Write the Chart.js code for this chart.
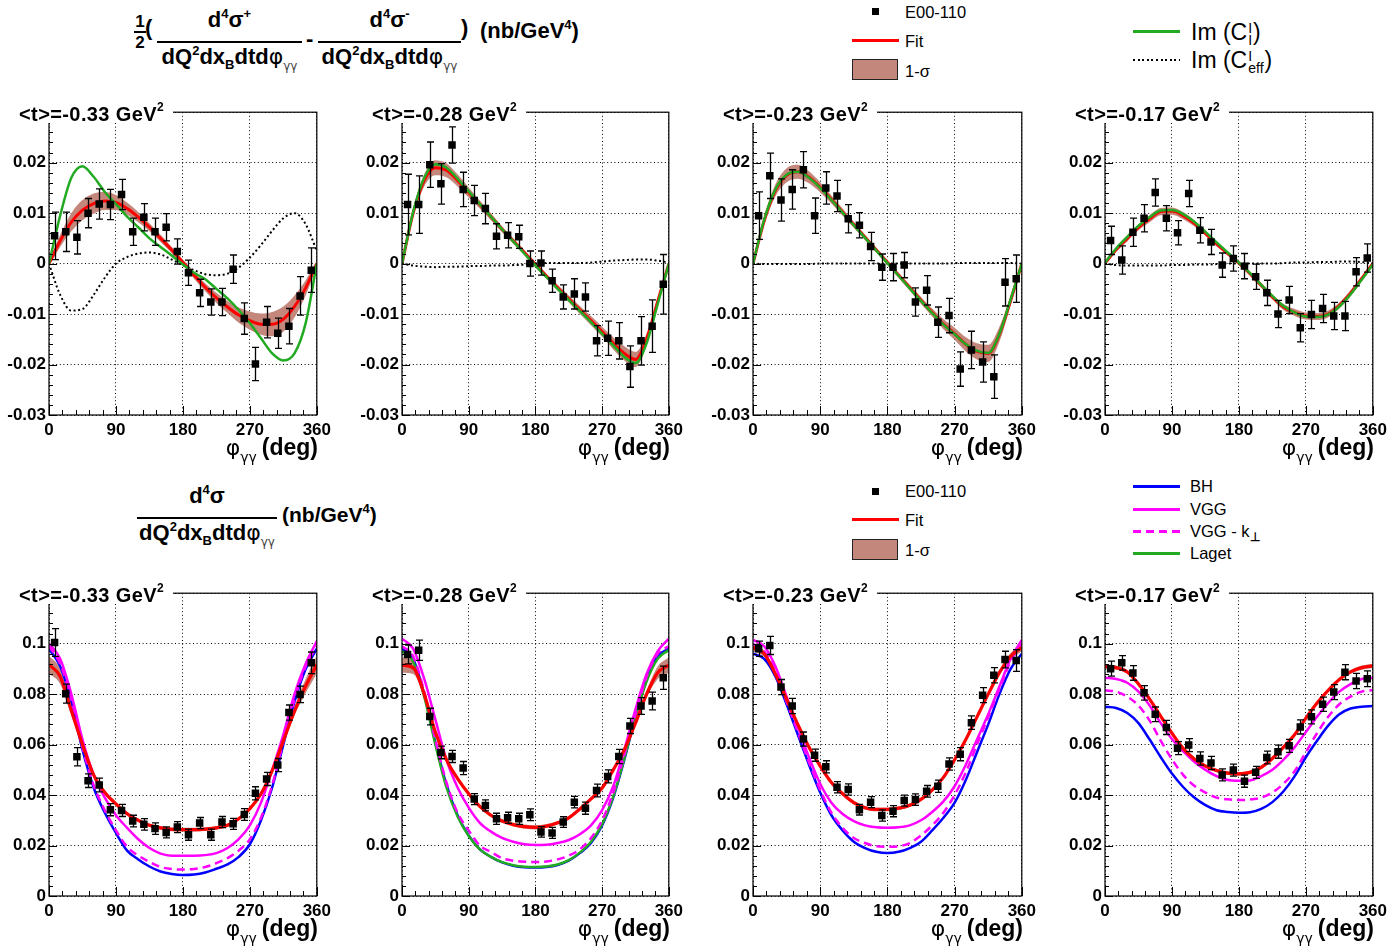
<!DOCTYPE html>
<html>
<head>
<meta charset="utf-8">
<script src="https://cdn.jsdelivr.net/npm/chart.js@4.4.1/dist/chart.umd.min.js"></script>
<style>
  body { margin: 0; background: #fff; width: 1393px; height: 947px; overflow: hidden; position: relative;
         font-family: "Liberation Sans", Arial, sans-serif; color: #000; }
  canvas { position: absolute; }
  .frac { position: absolute; display: flex; flex-direction: column; align-items: center;
          font-weight: bold; font-size: 22px; line-height: 1; white-space: nowrap; }
  .frac .num { margin-bottom: 10px; }
  .frac .bar { align-self: stretch; height: 2px; background: #000; }
  .frac .den { margin-top: 3px; }
  .frac.half { font-size: 17px; }
  .frac.half .num { margin-bottom: 1px; }
  .frac.half .bar { height: 1.5px; }
  .frac.half .den { margin-top: 1px; }
  .f { position: absolute; font-weight: bold; font-size: 22px; line-height: 1; white-space: nowrap; }
  .phi { font-family: "DejaVu Sans"; font-weight: normal; }
  .gg { font-family: "DejaVu Sans"; font-weight: normal; font-size: 12px; position: relative; top: 6px; color: #444; }
  .sp { font-size: 13px; position: relative; top: -9px; }
  .sb { font-size: 13px; position: relative; top: 5px; }
  .lg { position: absolute; font-size: 16.5px; line-height: 18px; white-space: nowrap; }
  .lg2 { position: absolute; font-size: 23px; line-height: 26px; white-space: nowrap; }
  .ss { display: inline-block; vertical-align: middle; font-size: 14px; line-height: 12px; margin: 0 1px; }
  .ss span { display: block; }
  .sq { position: absolute; width: 7px; height: 7px; background: #000; }
  .ln { position: absolute; height: 2.5px; width: 47px; }
  .bx { position: absolute; width: 46px; height: 21px; background: #c3877b; border: 1.5px solid #222; box-sizing: border-box; }
  .tbox { position: absolute; background: #fff; font-weight: bold; font-size: 20px; letter-spacing: 0.4px;
          line-height: 27px; height: 27px; white-space: nowrap; box-sizing: border-box; }
  .tbox sup { font-size: 12px; position: relative; top: -2px; }
  .xt { position: absolute; font-weight: bold; font-size: 23px; line-height: 26px; white-space: nowrap; }
  .xt .p { font-family: "DejaVu Sans"; font-weight: normal; font-size: 22px; }
  .xt .s { font-family: "DejaVu Sans"; font-weight: normal; font-size: 14px; position: relative; top: 7px; margin-right: 5px; }
</style>
</head>
<body>

<!-- upper formula -->
<div class="frac half" style="left:134px;top:13px;width:12px"><span class="num">1</span><span class="bar"></span><span class="den">2</span></div>
<div class="f" style="left:145px;top:17px">(</div>
<div class="frac" style="left:157px;top:9px;width:145px">
  <span class="num">d<span class="sp">4</span>σ<span class="sp">+</span></span><span class="bar"></span>
  <span class="den">dQ<span class="sp">2</span>dx<span class="sb">B</span>dtd<span class="phi">φ</span><span class="gg">γγ</span></span>
</div>
<div class="f" style="left:306px;top:28px">-</div>
<div class="frac" style="left:318px;top:9px;width:143px">
  <span class="num">d<span class="sp">4</span>σ<span class="sp">-</span></span><span class="bar"></span>
  <span class="den">dQ<span class="sp">2</span>dx<span class="sb">B</span>dtd<span class="phi">φ</span><span class="gg">γγ</span></span>
</div>
<div class="f" style="left:461px;top:17px">)</div>
<div class="f" style="left:480px;top:20px">(nb/GeV<span class="sp">4</span>)</div>

<!-- upper legends -->
<div class="sq" style="left:872px;top:8px"></div>
<div class="lg" style="left:905px;top:3px">E00-110</div>
<div class="ln" style="left:852px;top:39px;background:#ff0000"></div>
<div class="lg" style="left:905px;top:32px">Fit</div>
<div class="bx" style="left:852px;top:59px"></div>
<div class="lg" style="left:905px;top:62px">1-σ</div>
<div class="ln" style="left:1133px;top:30px;background:#22aa22"></div>
<div class="lg2" style="left:1191px;top:19px">Im (C<span class="ss"><span>I</span><span>I</span></span>)</div>
<div class="ln" style="left:1133px;top:59px;height:2px;background:repeating-linear-gradient(90deg,#000 0 2px,transparent 2px 4.6px)"></div>
<div class="lg2" style="left:1191px;top:47px">Im (C<span class="ss"><span>I</span><span>eff</span></span>)</div>

<!-- lower formula -->
<div class="frac" style="left:137px;top:485px;width:140px">
  <span class="num">d<span class="sp">4</span>σ</span><span class="bar"></span>
  <span class="den">dQ<span class="sp">2</span>dx<span class="sb">B</span>dtd<span class="phi">φ</span><span class="gg">γγ</span></span>
</div>
<div class="f" style="left:282px;top:504px;font-size:21px">(nb/GeV<span class="sp">4</span>)</div>

<!-- lower legends -->
<div class="sq" style="left:872px;top:488px"></div>
<div class="lg" style="left:905px;top:482px">E00-110</div>
<div class="ln" style="left:852px;top:518px;background:#ff0000"></div>
<div class="lg" style="left:905px;top:511px">Fit</div>
<div class="bx" style="left:852px;top:539px"></div>
<div class="lg" style="left:905px;top:541px">1-σ</div>
<div class="ln" style="left:1133px;top:485px;background:#0000ff"></div>
<div class="lg" style="left:1190px;top:477px">BH</div>
<div class="ln" style="left:1133px;top:508px;background:#ff00ff"></div>
<div class="lg" style="left:1190px;top:500px">VGG</div>
<div class="ln" style="left:1133px;top:530px;background:repeating-linear-gradient(90deg,#ff00ff 0 8px,transparent 8px 13px)"></div>
<div class="lg" style="left:1190px;top:522px">VGG - k<sub style="font-size:12px;font-weight:bold">⊥</sub></div>
<div class="ln" style="left:1133px;top:552px;background:#22aa22"></div>
<div class="lg" style="left:1190px;top:544px">Laget</div>

<script>
// phi bins of the data points and sampling of the curves (deg)
const phiBins = [7.5, 22.5, 37.5, 52.5, 67.5, 82.5, 97.5, 112.5, 127.5, 142.5, 157.5, 172.5,
                 187.5, 202.5, 217.5, 232.5, 247.5, 262.5, 277.5, 292.5, 307.5, 322.5, 337.5, 352.5];
const phiCurve = [0, 15, 30, 45, 60, 75, 90, 105, 120, 135, 150, 165, 180,
                  195, 210, 225, 240, 255, 270, 285, 300, 315, 330, 345, 360];
const tLabels = ['-0.33', '-0.28', '-0.23', '-0.17'];

// ---- helicity difference (upper row) ----
const diffPts033 = [0.0055, 0.0063, 0.0052, 0.0100, 0.0118, 0.0117, 0.0137, 0.0063, 0.0092, 0.0063, 0.0072, 0.0024,
                    -0.0018, -0.0058, -0.0076, -0.0076, -0.0011, -0.0109, -0.0199, -0.0116, -0.0138, -0.0124, -0.0064, -0.0013];
const diffErr033 = [0.0047, 0.0039, 0.0033, 0.0029, 0.0030, 0.0030, 0.0030, 0.0027, 0.0027, 0.0027, 0.0027, 0.0025,
                    0.0025, 0.0027, 0.0026, 0.0027, 0.0028, 0.0031, 0.0033, 0.0031, 0.0030, 0.0035, 0.0038, 0.0044];
const diffFit033 = [0, 0.0045, 0.0082, 0.0106, 0.0119, 0.0124, 0.0121, 0.0109, 0.0092, 0.0072, 0.0050, 0.0027, 0.0002,
                    -0.0023, -0.0047, -0.0068, -0.0086, -0.0102, -0.0113, -0.0120, -0.0120, -0.0110, -0.0085, -0.0048, 0];
const diffBand033 = [0.0005, 0.0012, 0.0018, 0.0020, 0.0020, 0.0018, 0.0015, 0.0012, 0.0010, 0.0008, 0.0007, 0.0006, 0.0006,
                     0.0007, 0.0008, 0.0010, 0.0012, 0.0015, 0.0018, 0.0021, 0.0024, 0.0025, 0.0022, 0.0015, 0.0006];
const diffImCI033 = [0, 0.0095, 0.0170, 0.0193, 0.0172, 0.0142, 0.0118, 0.0093, 0.0072, 0.0050, 0.0033, 0.0016, -0.0002,
                     -0.0018, -0.0031, -0.0050, -0.0069, -0.0092, -0.0118, -0.0148, -0.0178, -0.0192, -0.0178, -0.0118, 0];
const diffImCeff033 = [0, -0.0062, -0.0093, -0.0090, -0.0062, -0.0028, 0.0000, 0.0013, 0.0020, 0.0022, 0.0018, 0.0008, -0.0003,
                       -0.0013, -0.0021, -0.0023, -0.0020, -0.0008, 0.0012, 0.0037, 0.0065, 0.0090, 0.0100, 0.0078, 0.0025];

const diffPts028 = [0.0117, 0.0117, 0.0196, 0.0158, 0.0235, 0.0147, 0.0125, 0.0109, 0.0054, 0.0056, 0.0053, 0.0000,
                    0.0001, -0.0034, -0.0066, -0.0060, -0.0066, -0.0153, -0.0148, -0.0153, -0.0204, -0.0153, -0.0124, -0.0041];
const diffErr028 = [0.0060, 0.0057, 0.0045, 0.0040, 0.0036, 0.0034, 0.0030, 0.0030, 0.0025, 0.0025, 0.0023, 0.0025,
                    0.0024, 0.0023, 0.0024, 0.0030, 0.0028, 0.0030, 0.0034, 0.0036, 0.0041, 0.0048, 0.0052, 0.0059];
const diffFit028 = [0, 0.0100, 0.0165, 0.0190, 0.0185, 0.0165, 0.0141, 0.0117, 0.0093, 0.0068, 0.0045, 0.0022, -0.0002,
                    -0.0025, -0.0048, -0.0070, -0.0092, -0.0113, -0.0135, -0.0158, -0.0178, -0.0190, -0.0150, -0.0075, 0];
const diffBand028 = [0.0004, 0.0008, 0.0012, 0.0015, 0.0014, 0.0012, 0.0010, 0.0008, 0.0007, 0.0006, 0.0005, 0.0005, 0.0005,
                     0.0005, 0.0006, 0.0007, 0.0008, 0.0009, 0.0010, 0.0012, 0.0014, 0.0015, 0.0012, 0.0008, 0.0004];
const diffImCI028 = [0, 0.0102, 0.0170, 0.0197, 0.0190, 0.0168, 0.0143, 0.0118, 0.0093, 0.0068, 0.0044, 0.0020, -0.0004,
                     -0.0027, -0.0050, -0.0072, -0.0094, -0.0116, -0.0139, -0.0162, -0.0185, -0.0197, -0.0158, -0.0080, 0];
const diffImCeff028 = [0, -0.0004, -0.0006, -0.0007, -0.0006, -0.0006, -0.0005, -0.0005, -0.0004, -0.0004, -0.0003, -0.0002, 0,
                       0.0001, 0.0001, 0.0001, 0.0001, 0.0002, 0.0004, 0.0006, 0.0007, 0.0008, 0.0008, 0.0006, 0.0002];

const diffPts023 = [0.0095, 0.0174, 0.0126, 0.0147, 0.0186, 0.0095, 0.0150, 0.0134, 0.0089, 0.0076, 0.0034, -0.0007,
                    -0.0007, -0.0003, -0.0076, -0.0053, -0.0116, -0.0103, -0.0209, -0.0171, -0.0195, -0.0224, -0.0037, -0.0030];
const diffErr023 = [0.0047, 0.0045, 0.0042, 0.0039, 0.0036, 0.0035, 0.0032, 0.0031, 0.0028, 0.0025, 0.0028, 0.0026,
                    0.0027, 0.0025, 0.0028, 0.0029, 0.0030, 0.0034, 0.0034, 0.0037, 0.0040, 0.0043, 0.0047, 0.0047];
const diffFit023 = [0, 0.0085, 0.0145, 0.0175, 0.0182, 0.0171, 0.0151, 0.0127, 0.0102, 0.0077, 0.0052, 0.0027, 0.0002,
                    -0.0023, -0.0048, -0.0073, -0.0097, -0.0120, -0.0139, -0.0160, -0.0174, -0.0178, -0.0140, -0.0073, 0];
const diffBand023 = [0.0004, 0.0008, 0.0012, 0.0014, 0.0014, 0.0012, 0.0010, 0.0008, 0.0007, 0.0006, 0.0005, 0.0005, 0.0005,
                     0.0005, 0.0006, 0.0007, 0.0008, 0.0010, 0.0012, 0.0014, 0.0016, 0.0017, 0.0015, 0.0010, 0.0005];
const diffImCI023 = [0, 0.0087, 0.0147, 0.0176, 0.0182, 0.0170, 0.0150, 0.0126, 0.0101, 0.0076, 0.0051, 0.0026, 0.0001,
                     -0.0024, -0.0049, -0.0074, -0.0098, -0.0121, -0.0140, -0.0160, -0.0173, -0.0177, -0.0139, -0.0071, 0];
const diffImCeff023 = [0, -0.0001, -0.0001, -0.0001, -0.0001, -0.0001, 0, 0, 0, 0, 0, 0, 0,
                       0, 0, 0, 0, 0, 0.0001, 0.0001, 0.0001, 0.0001, 0.0001, 0.0001, 0];

const diffPts017 = [0.0046, 0.0007, 0.0062, 0.0090, 0.0141, 0.0090, 0.0061, 0.0139, 0.0066, 0.0043, -0.0003, 0.0010,
                    -0.0005, -0.0026, -0.0058, -0.0100, -0.0072, -0.0127, -0.0101, -0.0089, -0.0104, -0.0104, -0.0016, 0.0011];
const diffErr017 = [0.0028, 0.0028, 0.0028, 0.0027, 0.0027, 0.0025, 0.0024, 0.0026, 0.0025, 0.0025, 0.0024, 0.0025,
                    0.0025, 0.0025, 0.0025, 0.0027, 0.0027, 0.0028, 0.0028, 0.0028, 0.0027, 0.0029, 0.0028, 0.0028];
const diffFit017 = [0.0001, 0.0028, 0.0050, 0.0072, 0.0089, 0.0103, 0.0104, 0.0095, 0.0080, 0.0060, 0.0039, 0.0020, 0.0001,
                    -0.0020, -0.0043, -0.0066, -0.0086, -0.0097, -0.0104, -0.0105, -0.0100, -0.0083, -0.0059, -0.0030, 0];
const diffBand017 = [0.0004, 0.0005, 0.0006, 0.0006, 0.0007, 0.0007, 0.0007, 0.0007, 0.0006, 0.0005, 0.0005, 0.0004, 0.0004,
                     0.0004, 0.0005, 0.0005, 0.0006, 0.0007, 0.0007, 0.0007, 0.0007, 0.0006, 0.0006, 0.0005, 0.0004];
const diffImCI017 = [0.0002, 0.0030, 0.0053, 0.0075, 0.0092, 0.0105, 0.0106, 0.0098, 0.0083, 0.0063, 0.0042, 0.0022, 0.0002,
                     -0.0019, -0.0042, -0.0064, -0.0084, -0.0097, -0.0105, -0.0106, -0.0101, -0.0085, -0.0061, -0.0032, -0.0002];
const diffImCeff017 = [0, -0.0003, -0.0004, -0.0004, -0.0004, -0.0004, -0.0003, -0.0003, -0.0002, -0.0002, -0.0001, 0, 0,
                       0, 0, 0, 0.0001, 0.0002, 0.0002, 0.0003, 0.0003, 0.0004, 0.0004, 0.0003, 0.0001];

// ---- unpolarized cross section (lower row) ----
const xsPts033 = [0.1005, 0.0802, 0.0552, 0.0457, 0.0440, 0.0342, 0.0339, 0.0297, 0.0284, 0.0267, 0.0252, 0.0273,
                  0.0243, 0.0289, 0.0243, 0.0293, 0.0286, 0.0323, 0.0407, 0.0464, 0.0519, 0.0727, 0.0799, 0.0924];
const xsErr033 = [0.0055, 0.0038, 0.0036, 0.0027, 0.0027, 0.0024, 0.0024, 0.0023, 0.0023, 0.0023, 0.0022, 0.0022,
                  0.0022, 0.0022, 0.0022, 0.0022, 0.0022, 0.0023, 0.0026, 0.0026, 0.0026, 0.0030, 0.0033, 0.0043];
const xsFit033 = [0.0917, 0.0870, 0.0735, 0.0600, 0.0480, 0.0410, 0.0365, 0.0326, 0.0300, 0.0280, 0.0270, 0.0264, 0.0263,
                  0.0263, 0.0265, 0.0270, 0.0280, 0.0306, 0.0346, 0.0405, 0.0497, 0.0615, 0.0733, 0.0832, 0.0917];
const xsBand033 = [0.0035, 0.0030, 0.0020, 0.0012, 0.0009, 0.0008, 0.0007, 0.0007, 0.0007, 0.0007, 0.0007, 0.0007, 0.0007,
                   0.0007, 0.0007, 0.0007, 0.0007, 0.0007, 0.0008, 0.0009, 0.0010, 0.0012, 0.0018, 0.0028, 0.0035];
const xsBH033 = [0.098, 0.091, 0.077, 0.058, 0.043, 0.033, 0.025, 0.018, 0.0145, 0.0117, 0.0097, 0.0087, 0.0083,
                 0.0085, 0.0093, 0.0108, 0.0125, 0.0155, 0.0205, 0.030, 0.043, 0.060, 0.077, 0.090, 0.098];
const xsVGG033 = [0.100, 0.094, 0.080, 0.062, 0.048, 0.039, 0.032, 0.027, 0.0225, 0.019, 0.0168, 0.016, 0.016,
                  0.016, 0.0162, 0.017, 0.019, 0.0225, 0.028, 0.037, 0.050, 0.064, 0.080, 0.092, 0.101];
const xsVGGk033 = [0.099, 0.092, 0.078, 0.059, 0.044, 0.034, 0.026, 0.0195, 0.016, 0.0135, 0.0115, 0.0107, 0.0105,
                   0.0107, 0.0115, 0.013, 0.015, 0.018, 0.0225, 0.031, 0.044, 0.061, 0.078, 0.091, 0.099];

const xsPts028 = [0.0957, 0.0974, 0.0711, 0.0569, 0.0553, 0.0507, 0.0384, 0.0359, 0.0306, 0.0310, 0.0306, 0.0322,
                  0.0254, 0.0250, 0.0293, 0.0372, 0.0348, 0.0418, 0.0474, 0.0553, 0.0674, 0.0753, 0.0773, 0.0865];
const xsErr028 = [0.0037, 0.0040, 0.0033, 0.0025, 0.0024, 0.0026, 0.0022, 0.0022, 0.0022, 0.0022, 0.0022, 0.0023,
                  0.0021, 0.0022, 0.0021, 0.0023, 0.0024, 0.0025, 0.0026, 0.0028, 0.0030, 0.0033, 0.0035, 0.0046];
const xsFit028 = [0.0915, 0.0905, 0.0800, 0.0650, 0.0540, 0.0465, 0.0405, 0.0355, 0.0320, 0.0297, 0.0283, 0.0275, 0.0272,
                  0.0277, 0.0290, 0.0310, 0.0345, 0.0385, 0.0428, 0.0500, 0.0580, 0.0685, 0.0800, 0.0885, 0.0915];
const xsBand028 = [0.0030, 0.0025, 0.0015, 0.0010, 0.0008, 0.0008, 0.0007, 0.0007, 0.0007, 0.0007, 0.0007, 0.0008, 0.0008,
                   0.0008, 0.0007, 0.0007, 0.0007, 0.0007, 0.0008, 0.0008, 0.0009, 0.0010, 0.0015, 0.0025, 0.0030];
const xsBH028 = [0.098, 0.094, 0.080, 0.061, 0.044, 0.032, 0.024, 0.0185, 0.0155, 0.0133, 0.012, 0.0114, 0.0113,
                 0.0115, 0.0123, 0.014, 0.017, 0.021, 0.028, 0.039, 0.054, 0.071, 0.086, 0.095, 0.098];
const xsLaget028 = [0.097, 0.093, 0.079, 0.060, 0.043, 0.0315, 0.0238, 0.0185, 0.0155, 0.0134, 0.0122, 0.0116, 0.0115,
                    0.0117, 0.0125, 0.0142, 0.0172, 0.0215, 0.0285, 0.0395, 0.0545, 0.071, 0.085, 0.094, 0.0975];
const xsVGG028 = [0.102, 0.098, 0.086, 0.070, 0.054, 0.043, 0.035, 0.029, 0.0255, 0.023, 0.0215, 0.0205, 0.0202,
                  0.0203, 0.021, 0.0222, 0.0245, 0.028, 0.034, 0.0435, 0.058, 0.074, 0.088, 0.097, 0.102];
const xsVGGk028 = [0.099, 0.095, 0.081, 0.062, 0.045, 0.033, 0.026, 0.020, 0.0175, 0.015, 0.014, 0.0136, 0.0135,
                   0.0137, 0.0145, 0.016, 0.0185, 0.023, 0.030, 0.041, 0.056, 0.072, 0.087, 0.096, 0.099];

const xsPts023 = [0.0980, 0.0993, 0.0828, 0.0753, 0.0622, 0.0558, 0.0512, 0.0431, 0.0422, 0.0342, 0.0372, 0.0319,
                  0.0336, 0.0378, 0.0382, 0.0415, 0.0435, 0.0523, 0.0562, 0.0687, 0.0796, 0.0875, 0.0937, 0.0933];
const xsErr023 = [0.0030, 0.0036, 0.0030, 0.0030, 0.0028, 0.0024, 0.0024, 0.0022, 0.0022, 0.0021, 0.0022, 0.0022,
                  0.0022, 0.0022, 0.0023, 0.0023, 0.0024, 0.0024, 0.0026, 0.0027, 0.0030, 0.0030, 0.0033, 0.0043];
const xsFit023 = [0.0985, 0.0960, 0.0880, 0.0780, 0.0680, 0.0590, 0.0515, 0.0450, 0.0405, 0.0370, 0.0350, 0.0343, 0.0343,
                  0.0348, 0.0360, 0.0383, 0.0420, 0.0470, 0.0540, 0.0620, 0.0710, 0.0800, 0.0885, 0.0950, 0.0985];
const xsBand023 = [0.0015, 0.0013, 0.0010, 0.0008, 0.0007, 0.0007, 0.0007, 0.0007, 0.0007, 0.0007, 0.0007, 0.0007, 0.0007,
                   0.0007, 0.0007, 0.0007, 0.0007, 0.0007, 0.0007, 0.0007, 0.0008, 0.0009, 0.0010, 0.0013, 0.0015];
const xsBH023 = [0.096, 0.094, 0.087, 0.076, 0.064, 0.052, 0.041, 0.032, 0.026, 0.0215, 0.019, 0.0175, 0.017,
                 0.0175, 0.019, 0.0215, 0.026, 0.031, 0.037, 0.046, 0.057, 0.068, 0.080, 0.090, 0.096];
const xsVGG023 = [0.1015, 0.099, 0.091, 0.079, 0.067, 0.055, 0.0445, 0.037, 0.0325, 0.0297, 0.028, 0.0272, 0.027,
                  0.0272, 0.028, 0.030, 0.0333, 0.0375, 0.0435, 0.052, 0.062, 0.072, 0.083, 0.094, 0.1015];
const xsVGGk023 = [0.100, 0.097, 0.089, 0.077, 0.065, 0.053, 0.042, 0.033, 0.027, 0.023, 0.021, 0.0197, 0.0195,
                   0.0197, 0.021, 0.024, 0.028, 0.033, 0.040, 0.049, 0.060, 0.071, 0.082, 0.093, 0.100];

const xsPts017 = [0.0901, 0.0924, 0.0884, 0.0805, 0.0720, 0.0668, 0.0586, 0.0598, 0.0545, 0.0527, 0.0480, 0.0499,
                  0.0455, 0.0490, 0.0549, 0.0572, 0.0595, 0.0670, 0.0710, 0.0760, 0.0808, 0.0887, 0.0852, 0.0861];
const xsErr017 = [0.0030, 0.0029, 0.0029, 0.0029, 0.0029, 0.0028, 0.0026, 0.0026, 0.0026, 0.0026, 0.0024, 0.0024,
                  0.0024, 0.0024, 0.0025, 0.0026, 0.0026, 0.0028, 0.0028, 0.0028, 0.0030, 0.0030, 0.0030, 0.0031];
const xsFit017 = [0.0910, 0.0905, 0.0888, 0.0840, 0.0780, 0.0712, 0.0645, 0.0585, 0.0543, 0.0515, 0.0497, 0.0487, 0.0484,
                  0.0490, 0.0510, 0.0545, 0.0590, 0.0640, 0.0705, 0.0765, 0.0815, 0.0858, 0.0888, 0.0905, 0.0912];
const xsBand017 = [0.0008, 0.0008, 0.0007, 0.0007, 0.0007, 0.0007, 0.0007, 0.0007, 0.0007, 0.0007, 0.0007, 0.0007, 0.0007,
                   0.0007, 0.0007, 0.0007, 0.0007, 0.0007, 0.0007, 0.0007, 0.0007, 0.0007, 0.0007, 0.0008, 0.0008];
const xsBH017 = [0.0750, 0.0745, 0.0725, 0.0685, 0.0620, 0.0550, 0.0485, 0.0432, 0.0390, 0.0360, 0.0340, 0.0333, 0.0330,
                 0.0332, 0.0345, 0.0372, 0.0415, 0.0475, 0.0550, 0.0615, 0.0675, 0.0720, 0.0743, 0.0750, 0.0753];
const xsVGG017 = [0.0865, 0.0860, 0.0845, 0.0810, 0.0755, 0.0685, 0.0622, 0.0574, 0.0532, 0.0500, 0.0475, 0.0460, 0.0457,
                  0.0458, 0.0475, 0.0500, 0.0540, 0.0590, 0.0650, 0.0710, 0.0765, 0.0810, 0.0840, 0.0860, 0.0865];
const xsVGGk017 = [0.0815, 0.0810, 0.0790, 0.0755, 0.0695, 0.0615, 0.0542, 0.0480, 0.0437, 0.0410, 0.0390, 0.0383, 0.0380,
                   0.0382, 0.0390, 0.0410, 0.0445, 0.0495, 0.0570, 0.0645, 0.0710, 0.0760, 0.0790, 0.0810, 0.0816];

// ---- layout ----
const colL = [49, 402, 753, 1105];
const colR = [318, 670, 1023, 1374];
const rowT = [111, 592];
const rowB = [415, 896];
const AX_W = 48, AX_H = 30, PAD_T = 12, PAD_R = 18;

const RED = '#ff0000', GREEN = '#22aa22', BLUE = '#0000ff', MAGENTA = '#ff00ff', BAND = '#c3877b';
const tickFont = { family: '"Liberation Sans", Arial, sans-serif', size: 17, weight: 'bold' };

// error bars drawn just before the marker dataset
const errorBars = {
  id: 'errorBars',
  beforeDatasetDraw(chart, args) {
    const ds = chart.data.datasets[args.index];
    if (!ds.errors) return;
    const { ctx, scales: { x, y } } = chart;
    ctx.save();
    ctx.strokeStyle = '#000';
    ctx.lineWidth = 1.3;
    ctx.beginPath();
    ds.data.forEach((p, i) => {
      const px = Math.round(x.getPixelForValue(p.x)) + 0.5;
      const y1 = y.getPixelForValue(p.y - ds.errors[i]);
      const y2 = y.getPixelForValue(p.y + ds.errors[i]);
      ctx.moveTo(px, y1); ctx.lineTo(px, y2);
      ctx.moveTo(px - 3.5, y1); ctx.lineTo(px + 3.5, y1);
      ctx.moveTo(px - 3.5, y2); ctx.lineTo(px + 3.5, y2);
    });
    ctx.stroke();
    ctx.restore();
  }
};

// ROOT-like frame with ticks pointing inside
const frameTicks = {
  id: 'frameTicks',
  afterDatasetsDraw(chart, args, o) {
    const { ctx, chartArea: a, scales: { x, y } } = chart;
    ctx.save();
    ctx.strokeStyle = '#000';
    ctx.lineWidth = 1.2;
    ctx.strokeRect(a.left, a.top, a.right - a.left, a.bottom - a.top);
    ctx.lineWidth = 1;
    ctx.beginPath();
    for (let k = 0; k <= 20; k++) {
      const px = Math.round(x.getPixelForValue(k * 18)) + 0.5;
      const len = k % 5 === 0 ? 9 : 5;
      ctx.moveTo(px, a.bottom); ctx.lineTo(px, a.bottom - len);
    }
    for (let k = 0; k <= 30; k++) {
      const py = Math.round(y.getPixelForValue(y.min + k * o.yMinor)) + 0.5;
      const len = k % 5 === 0 ? 8 : 4;
      ctx.moveTo(a.left, py); ctx.lineTo(a.left + len, py);
    }
    ctx.stroke();
    ctx.restore();
  }
};

function pts(xs, ys) { return xs.map((x, i) => ({ x: x, y: ys[i] })); }

function curve(vals, color, width, dash) {
  return { data: pts(phiCurve, vals), borderColor: color, borderWidth: width, borderDash: dash || [],
           pointRadius: 0, pointHitRadius: 0, fill: false, cubicInterpolationMode: 'monotone' };
}

function markers(vals, errs) {
  return { data: pts(phiBins, vals), errors: errs, showLine: false, pointStyle: 'rect',
           pointRadius: 5.3, pointBackgroundColor: '#000', pointBorderWidth: 0, borderColor: '#000' };
}

function band(fit, half) {
  const hi = fit.map((v, i) => v + half[i]);
  const lo = fit.map((v, i) => v - half[i]);
  return [
    { data: pts(phiCurve, hi), borderWidth: 0, borderColor: 'transparent', pointRadius: 0,
      fill: '+1', backgroundColor: BAND, cubicInterpolationMode: 'monotone' },
    { data: pts(phiCurve, lo), borderWidth: 0, borderColor: 'transparent', pointRadius: 0,
      fill: false, cubicInterpolationMode: 'monotone' }
  ];
}

function panel(row, col, datasets, yMin, yMax, yStep, yMinor) {
  const L = colL[col], R = colR[col], T = rowT[row], B = rowB[row];
  const canvas = document.createElement('canvas');
  canvas.width = R - L + AX_W + PAD_R;
  canvas.height = B - T + PAD_T + AX_H;
  canvas.style.left = (L - AX_W) + 'px';
  canvas.style.top = (T - PAD_T) + 'px';
  document.body.appendChild(canvas);

  new Chart(canvas, {
    type: 'line',
    data: { datasets: datasets },
    plugins: [errorBars, frameTicks],
    options: {
      responsive: false,
      animation: false,
      events: [],
      layout: { padding: { top: PAD_T, right: PAD_R, left: 0, bottom: 0 } },
      plugins: { legend: { display: false }, tooltip: { enabled: false }, frameTicks: { yMinor: yMinor } },
      scales: {
        x: {
          type: 'linear', min: 0, max: 360,
          ticks: { stepSize: 90, color: '#000', font: tickFont, padding: 5, maxRotation: 0, autoSkip: false },
          grid: { color: '#000', lineWidth: 1, drawTicks: false },
          border: { display: false, dash: [1, 2.6] },
          afterFit: s => { s.height = AX_H; }
        },
        y: {
          type: 'linear', min: yMin, max: yMax,
          ticks: { stepSize: yStep, color: '#000', font: tickFont, padding: 3,
                   callback: v => Math.abs(v) < 1e-9 ? '0' : String(+v.toFixed(3)) },
          grid: { color: '#000', lineWidth: 1, drawTicks: false },
          border: { display: false, dash: [1, 2.6] },
          afterFit: s => { s.width = AX_W; }
        }
      }
    }
  });

  const tb = document.createElement('div');
  tb.className = 'tbox';
  tb.style.left = (L - AX_W) + 'px';
  tb.style.top = (T - 15) + 'px';
  tb.style.width = (AX_W + 124) + 'px';
  tb.style.paddingLeft = (AX_W - 30) + 'px';
  tb.innerHTML = '&lt;t&gt;=' + tLabels[col] + ' GeV<sup>2</sup>';
  document.body.appendChild(tb);

  const xt = document.createElement('div');
  xt.className = 'xt';
  xt.style.right = (1393 - R) + 'px';
  xt.style.top = (B + 19) + 'px';
  xt.innerHTML = '<span class="p">φ</span><span class="s">γγ</span>(deg)';
  document.body.appendChild(xt);
}

const DOT = [2, 2.6], DASH = [8, 5];

panel(0, 0, [markers(diffPts033, diffErr033), curve(diffImCI033, GREEN, 2.5), curve(diffImCeff033, '#000', 2, DOT),
             curve(diffFit033, RED, 3)].concat(band(diffFit033, diffBand033)), -0.03, 0.03, 0.01, 0.002);
panel(0, 1, [markers(diffPts028, diffErr028), curve(diffImCI028, GREEN, 2.5), curve(diffImCeff028, '#000', 2, DOT),
             curve(diffFit028, RED, 3)].concat(band(diffFit028, diffBand028)), -0.03, 0.03, 0.01, 0.002);
panel(0, 2, [markers(diffPts023, diffErr023), curve(diffImCI023, GREEN, 2.5), curve(diffImCeff023, '#000', 2, DOT),
             curve(diffFit023, RED, 3)].concat(band(diffFit023, diffBand023)), -0.03, 0.03, 0.01, 0.002);
panel(0, 3, [markers(diffPts017, diffErr017), curve(diffImCI017, GREEN, 2.5), curve(diffImCeff017, '#000', 2, DOT),
             curve(diffFit017, RED, 3)].concat(band(diffFit017, diffBand017)), -0.03, 0.03, 0.01, 0.002);

panel(1, 0, [markers(xsPts033, xsErr033), curve(xsFit033, RED, 3.2), curve(xsVGG033, MAGENTA, 2.5),
             curve(xsVGGk033, MAGENTA, 2.5, DASH), curve(xsBH033, BLUE, 2.5)].concat(band(xsFit033, xsBand033)),
      0, 0.12, 0.02, 0.004);
panel(1, 1, [markers(xsPts028, xsErr028), curve(xsFit028, RED, 3.2), curve(xsVGG028, MAGENTA, 2.5),
             curve(xsVGGk028, MAGENTA, 2.5, DASH), curve(xsLaget028, GREEN, 2.5), curve(xsBH028, BLUE, 2.5)]
             .concat(band(xsFit028, xsBand028)), 0, 0.12, 0.02, 0.004);
panel(1, 2, [markers(xsPts023, xsErr023), curve(xsFit023, RED, 3.2), curve(xsVGG023, MAGENTA, 2.5),
             curve(xsVGGk023, MAGENTA, 2.5, DASH), curve(xsBH023, BLUE, 2.5)].concat(band(xsFit023, xsBand023)),
      0, 0.12, 0.02, 0.004);
panel(1, 3, [markers(xsPts017, xsErr017), curve(xsFit017, RED, 3.2), curve(xsVGG017, MAGENTA, 2.5),
             curve(xsVGGk017, MAGENTA, 2.5, DASH), curve(xsBH017, BLUE, 2.5)].concat(band(xsFit017, xsBand017)),
      0, 0.12, 0.02, 0.004);
</script>
</body>
</html>
